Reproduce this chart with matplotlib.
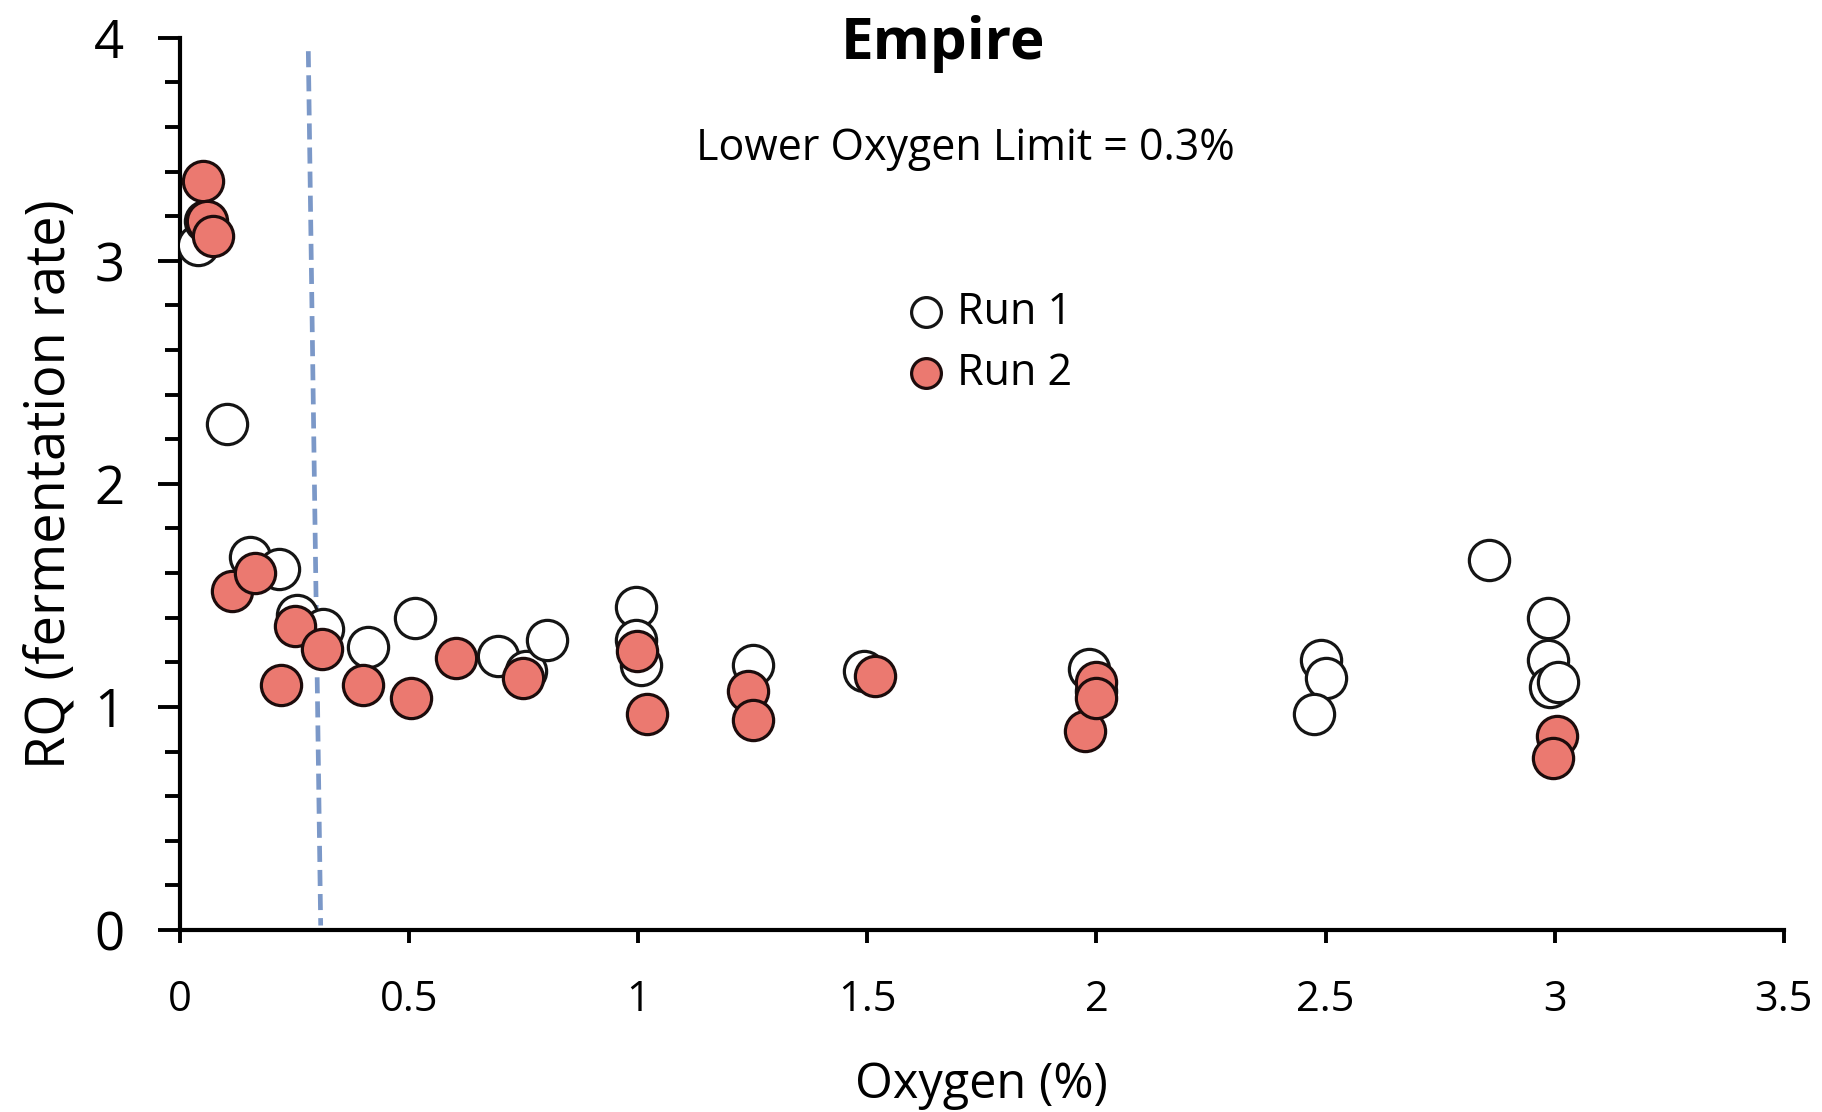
import matplotlib
matplotlib.use("Agg")
import matplotlib.pyplot as plt
from matplotlib.ticker import MultipleLocator

# ---- data ----
run1_x = [0.04, 0.055, 0.103, 0.153, 0.215, 0.255, 0.313, 0.411, 0.513, 0.695,
          0.756, 0.80, 0.995, 0.995, 1.005, 1.25, 1.492, 1.984, 2.0, 2.49,
          2.502, 2.475, 2.857, 2.985, 2.985, 2.99, 3.007]
run1_y = [3.07, 3.18, 2.27, 1.67, 1.62, 1.41, 1.35, 1.27, 1.40, 1.23,
          1.16, 1.30, 1.45, 1.30, 1.19, 1.19, 1.16, 1.17, 1.07, 1.21,
          1.13, 0.97, 1.66, 1.40, 1.21, 1.09, 1.11]

run2_x = [0.05, 0.058, 0.073, 0.113, 0.164, 0.22, 0.251, 0.31, 0.40, 0.505,
          0.602, 0.749, 0.997, 1.02, 1.24, 1.25, 1.517, 1.976, 2.0, 2.0,
          3.005, 2.997]
run2_y = [3.36, 3.18, 3.11, 1.52, 1.60, 1.10, 1.365, 1.26, 1.10, 1.04,
          1.22, 1.13, 1.25, 0.97, 1.07, 0.94, 1.14, 0.89, 1.11, 1.04,
          0.87, 0.77]

limit_x = [0.28, 0.307]
limit_y = [3.94, 0.02]

series_labels = ["Run 1", "Run 2"]
title = "Empire"
note = "Lower Oxygen Limit = 0.3%"
x_label = "Oxygen (%)"
y_label = "RQ (fermentation rate)"
x_ticks = [0, 0.5, 1, 1.5, 2, 2.5, 3, 3.5]
x_tick_labels = ["0", "0.5", "1", "1.5", "2", "2.5", "3", "3.5"]
y_ticks = [0, 1, 2, 3, 4]

plt.rcParams['font.family'] = ['Open Sans', 'DejaVu Sans']

fig = plt.figure(figsize=(18.22, 11.12), dpi=100)
ax = fig.add_axes([0.0988, 0.1637, 0.8802, 0.8023])

ax.plot(limit_x, limit_y, linestyle=(0, (3.4, 1.7)), color='#7b98c8', lw=3.4, zorder=2)

ax.scatter(run1_x, run1_y, s=840, facecolor='white', edgecolor='#151515',
           linewidth=2.3, zorder=3, label=series_labels[0])
ax.scatter(run2_x, run2_y, s=840, facecolor='#eb7970', edgecolor='#1c0c0c',
           linewidth=2.3, zorder=4, label=series_labels[1])

ax.set_xlim(0, 3.5)
ax.set_ylim(0, 4)
ax.set_xticks(x_ticks)
ax.set_xticklabels(x_tick_labels)
ax.set_yticks(y_ticks)
ax.yaxis.set_minor_locator(MultipleLocator(0.2))

for s in ['top', 'right']:
    ax.spines[s].set_visible(False)
for s in ['left', 'bottom']:
    ax.spines[s].set_linewidth(3)
    ax.spines[s].set_color('black')

ax.tick_params(axis='x', which='major', direction='out', length=9, width=2.8,
               labelsize=30, pad=26, colors='black')
ax.tick_params(axis='y', which='major', direction='out', length=16, width=2.8,
               labelsize=38, pad=24, colors='black')
ax.tick_params(axis='y', which='minor', direction='out', length=11, width=2.8)

ax.set_xlabel(x_label, fontsize=35, labelpad=29)
ax.set_ylabel(y_label, fontsize=39, labelpad=12)

ax.text(0.476, 0.993, title, transform=ax.transAxes, ha='center', va='center',
        fontsize=42, fontweight='bold')
ax.text(0.49, 0.876, note, transform=ax.transAxes, ha='center', va='center',
        fontsize=31)

leg = ax.legend(loc='center left', bbox_to_anchor=(0.452, 0.658), frameon=False,
                fontsize=31, handlelength=1.0, handletextpad=0.2, labelspacing=0.38,
                markerscale=0.74, borderaxespad=0, borderpad=0)

fig.savefig("out.png", dpi=100)
